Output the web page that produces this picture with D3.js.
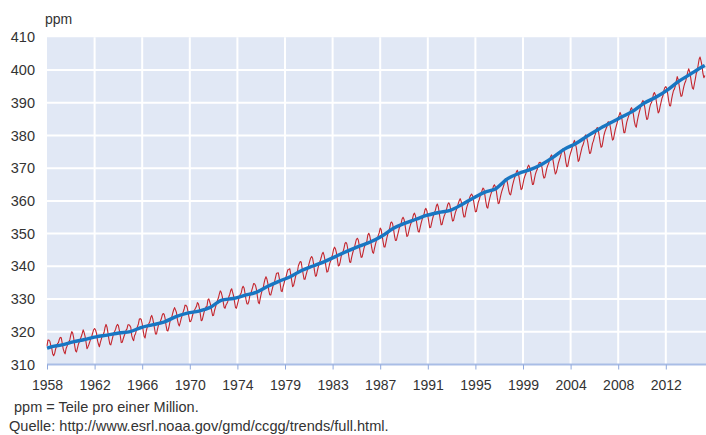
<!DOCTYPE html>
<html>
<head>
<meta charset="utf-8">
<script src="https://cdn.jsdelivr.net/npm/d3@7"></script>
<style>
  html, body { margin: 0; padding: 0; background: #fff; }
  svg { display: block; font-family: "Liberation Sans", Arial, sans-serif; }
</style>
</head>
<body>
<svg id="chart" width="706" height="435"></svg>
<script>
// ---- DATA ----
// Monthly mean CO2 at Mauna Loa (ppm), starting March 1958, ending October 2015
const startYear = 1958;
const startMonth = 3; // March
const co2Monthly = [
  315.71, 317.45, 317.50, 317.10, 315.86, 314.93, 313.20, 312.66, 313.33, 314.67,
  315.62, 316.38, 316.71, 317.72, 318.29, 318.15, 316.54, 314.80, 313.84, 313.26, 314.80, 315.58,
  316.43, 316.97, 317.58, 319.02, 320.03, 319.59, 318.18, 315.91, 314.16, 313.83, 315.00, 316.19,
  316.93, 317.70, 318.54, 319.48, 320.58, 319.77, 318.57, 316.79, 314.80, 315.38, 316.10, 317.01,
  317.94, 318.56, 319.68, 320.63, 321.01, 320.55, 319.58, 317.40, 316.26, 315.42, 316.69, 317.69,
  318.74, 319.08, 319.86, 321.39, 322.25, 321.47, 319.74, 317.77, 316.21, 315.99, 317.12, 318.31,
  319.57, 320.07, 320.73, 321.77, 322.25, 321.89, 320.44, 318.70, 316.70, 316.79, 317.79, 318.71,
  319.44, 320.44, 320.89, 322.13, 322.16, 321.87, 321.39, 318.81, 317.81, 317.30, 318.87, 319.42,
  320.62, 321.59, 322.39, 323.87, 324.01, 323.75, 322.39, 320.37, 318.64, 318.10, 319.79, 321.08,
  322.07, 322.50, 323.04, 324.42, 325.00, 324.09, 322.55, 320.92, 319.31, 319.31, 320.72, 321.96,
  322.57, 323.15, 323.89, 325.02, 325.57, 325.36, 324.14, 322.03, 320.41, 320.25, 321.31, 322.84,
  324.00, 324.42, 325.64, 326.66, 327.38, 326.70, 325.89, 323.67, 322.38, 321.78, 322.85, 324.11,
  325.03, 325.99, 326.87, 328.13, 328.07, 327.66, 326.35, 324.69, 323.10, 323.16, 323.98, 325.13,
  326.17, 326.68, 327.18, 327.78, 328.92, 328.57, 327.34, 325.46, 323.36, 323.57, 324.80, 326.01,
  326.77, 327.63, 327.75, 329.72, 330.07, 329.09, 328.05, 326.32, 324.93, 325.06, 326.50, 327.55,
  328.54, 329.56, 330.30, 331.50, 332.48, 332.07, 330.87, 329.31, 327.51, 327.18, 328.16, 328.64,
  329.35, 330.71, 331.48, 332.65, 333.16, 332.06, 330.99, 329.17, 327.41, 327.21, 328.34, 329.50,
  330.68, 331.41, 331.85, 333.29, 333.91, 333.40, 331.78, 329.88, 328.57, 328.46, 329.26, 330.97,
  331.60, 332.60, 333.57, 334.72, 334.68, 334.17, 332.96, 330.80, 328.98, 328.57, 330.20, 331.58,
  332.67, 333.17, 334.86, 336.07, 336.82, 336.12, 334.81, 332.56, 331.30, 331.22, 332.37, 333.49,
  334.71, 335.23, 336.54, 337.79, 337.95, 338.00, 336.37, 334.47, 332.46, 332.29, 333.76, 334.80,
  336.00, 336.63, 337.93, 338.95, 339.05, 339.27, 337.64, 335.68, 333.77, 334.09, 335.29, 336.76,
  337.77, 338.26, 340.10, 340.88, 341.47, 341.31, 339.41, 337.74, 336.10, 336.05, 337.21, 338.29,
  339.36, 340.51, 341.57, 342.56, 343.01, 342.47, 340.71, 338.52, 336.96, 337.13, 338.58, 339.89,
  340.93, 341.69, 342.69, 343.79, 344.30, 343.43, 341.88, 339.89, 338.24, 338.38, 339.60, 340.90,
  341.70, 342.70, 343.65, 345.17, 345.85, 345.35, 344.16, 342.11, 340.09, 340.33, 341.39, 343.02,
  343.85, 344.51, 345.57, 347.00, 347.34, 346.82, 345.22, 343.10, 341.30, 341.21, 342.71, 343.99,
  344.93, 345.80, 347.11, 348.26, 348.58, 348.03, 346.42, 344.21, 342.74, 342.87, 344.19, 345.54,
  346.42, 346.98, 347.69, 349.56, 350.11, 349.36, 347.81, 345.84, 344.32, 343.99, 345.48, 346.72,
  347.85, 348.48, 349.46, 350.29, 351.71, 351.23, 349.46, 347.55, 345.93, 345.90, 347.25, 348.66,
  349.84, 350.88, 351.68, 353.25, 353.55, 353.01, 351.37, 349.33, 347.92, 347.96, 349.24, 350.38,
  351.68, 352.23, 353.10, 354.49, 355.00, 354.42, 352.80, 350.85, 349.12, 349.37, 350.59, 351.88,
  352.91, 353.51, 354.63, 355.80, 356.25, 355.48, 353.92, 351.98, 350.60, 350.50, 351.91, 353.17,
  354.29, 355.09, 355.88, 357.24, 357.71, 356.99, 355.50, 353.64, 351.83, 351.94, 353.19, 354.50,
  355.61, 356.47, 357.17, 358.48, 359.03, 358.22, 356.42, 354.32, 352.68, 352.81, 354.11, 355.22,
  355.95, 356.75, 357.81, 358.97, 359.42, 358.88, 357.48, 355.34, 353.83, 354.00, 355.24, 356.50,
  357.27, 358.19, 359.16, 360.07, 360.68, 359.91, 358.43, 356.30, 355.07, 355.13, 356.79, 358.09,
  359.00, 359.82, 361.03, 361.70, 362.09, 361.59, 360.14, 358.36, 356.65, 356.73, 358.16, 359.59,
  360.34, 361.42, 362.14, 363.19, 363.91, 363.62, 361.67, 359.66, 358.07, 357.81, 359.40, 360.65,
  361.84, 362.66, 363.49, 364.52, 364.93, 364.25, 362.98, 360.90, 359.17, 359.32, 360.83, 362.15,
  363.18, 364.06, 364.93, 366.59, 366.81, 366.34, 364.99, 363.17, 362.05, 361.84, 363.23, 364.73,
  365.87, 366.93, 367.77, 368.81, 369.36, 368.63, 367.04, 365.13, 363.40, 363.73, 365.18, 366.66,
  367.59, 368.27, 369.32, 370.43, 370.92, 370.24, 368.71, 366.66, 364.99, 365.11, 366.74, 368.14,
  369.03, 369.66, 370.80, 371.72, 371.78, 371.47, 370.11, 368.06, 366.93, 367.22, 368.50, 369.95,
  370.84, 371.51, 372.63, 373.52, 374.04, 373.35, 371.64, 369.60, 368.20, 368.69, 369.90, 371.38,
  372.34, 373.25, 374.27, 375.48, 375.89, 375.40, 374.13, 371.86, 370.43, 370.63, 372.15, 373.61,
  374.64, 375.54, 376.61, 377.72, 378.49, 377.45, 376.25, 374.17, 372.06, 372.44, 373.88, 375.16,
  376.37, 377.05, 378.01, 379.77, 380.16, 379.28, 377.93, 376.03, 374.47, 374.64, 376.06, 377.56,
  378.34, 379.58, 380.39, 381.96, 382.40, 381.77, 379.96, 377.87, 376.37, 376.66, 378.26, 379.98,
  381.11, 381.86, 382.55, 384.02, 384.17, 383.69, 382.15, 380.27, 378.58, 378.85, 380.39, 381.82,
  382.89, 383.96, 385.51, 386.20, 387.03, 386.23, 384.82, 382.80, 380.84, 380.83, 382.43, 384.04,
  385.05, 385.97, 386.74, 387.96, 388.49, 387.66, 386.34, 384.22, 382.97, 382.49, 384.28, 385.72,
  386.94, 388.06, 389.17, 390.17, 390.70, 389.93, 388.46, 386.35, 384.87, 385.09, 386.73, 388.43,
  389.55, 390.05, 391.07, 392.57, 393.12, 392.43, 390.51, 388.56, 386.89, 387.26, 388.83, 390.08,
  391.37, 392.11, 393.75, 394.62, 394.91, 394.36, 392.68, 390.68, 389.07, 389.00, 390.91, 392.39,
  393.62, 394.15, 395.09, 396.62, 397.98, 397.12, 395.28, 393.34, 391.94, 392.12, 393.60, 394.96,
  396.04, 396.72, 397.95, 399.33, 400.36, 399.56, 397.87, 395.99, 394.44, 394.17, 395.72, 397.20,
  398.94, 399.73, 401.52, 403.26, 403.94, 402.80, 401.31, 398.93, 397.63, 398.29
];

// Trend (seasonally corrected) — start value, annual means (placed mid-year), end value
const trendYears = [1958.21, 1958.5, 1959.5, 1960.5, 1961.5, 1962.5, 1963.5, 1964.5, 1965.5, 1966.5,
  1967.5, 1968.5, 1969.5, 1970.5, 1971.5, 1972.5, 1973.5, 1974.5, 1975.5, 1976.5,
  1977.5, 1978.5, 1979.5, 1980.5, 1981.5, 1982.5, 1983.5, 1984.5, 1985.5, 1986.5,
  1987.5, 1988.5, 1989.5, 1990.5, 1991.5, 1992.5, 1993.5, 1994.5, 1995.5, 1996.5,
  1997.5, 1998.5, 1999.5, 2000.5, 2001.5, 2002.5, 2003.5, 2004.5, 2005.5, 2006.5,
  2007.5, 2008.5, 2009.5, 2010.5, 2011.5, 2012.5, 2013.5, 2014.5, 2015.5, 2015.79];
const trendValues = [315.0, 315.33, 315.97, 316.91, 317.64, 318.45, 318.99, 319.62, 320.04, 321.38,
  322.16, 323.04, 324.62, 325.68, 326.32, 327.45, 329.68, 330.18, 331.12, 332.04,
  333.83, 335.40, 336.84, 338.75, 340.11, 341.45, 343.05, 344.65, 346.12, 347.42,
  349.19, 351.57, 353.12, 354.39, 355.61, 356.45, 357.10, 358.83, 360.82, 362.61,
  363.73, 366.70, 368.38, 369.55, 371.14, 373.28, 375.80, 377.52, 379.80, 381.90,
  383.79, 385.60, 387.43, 389.90, 391.65, 393.85, 396.52, 398.65, 400.83, 401.4];

// X tick labels: one every 50 months, starting at the first month
const tickEvery = 50;
const xTickLabels = ["1958", "1962", "1966", "1970", "1974", "1979", "1983", "1987",
  "1991", "1995", "1999", "2004", "2008", "2012"];
const yTicks = [310, 320, 330, 340, 350, 360, 370, 380, 390, 400, 410];

const unitLabel = "ppm";
const note1 = "ppm = Teile pro einer Million.";
const note2 = "Quelle: http://www.esrl.noaa.gov/gmd/ccgg/trends/full.html.";

// ---- DRAW ----
const svg = d3.select("#chart");
const plot = { left: 47, right: 706, top: 37.25, bottom: 364.5 };
const FONT = "Liberation Sans, Arial, sans-serif";

const dateOf = i => startYear + (startMonth - 1 + i + 0.5) / 12;
const monthly = co2Monthly.map((v, i) => ({ t: dateOf(i), v }));
const trend = trendYears.map((t, i) => ({ t, v: trendValues[i] }));

const n = co2Monthly.length;
const x = d3.scaleLinear()
  .domain([dateOf(0), dateOf(n - 1)])
  .range([plot.left, plot.left + (n - 1) * 0.952]);
const y = d3.scaleLinear().domain([310, 410]).range([plot.bottom, plot.top]);

// background
svg.append("rect")
  .attr("x", plot.left).attr("y", plot.top)
  .attr("width", plot.right - plot.left).attr("height", plot.bottom - plot.top)
  .attr("fill", "#e1e8f5");

const tickDates = xTickLabels.map((_, k) => dateOf(k * tickEvery));

// grid
const grid = svg.append("g").attr("stroke", "#ffffff").attr("stroke-width", 2);
grid.selectAll("line.h").data(yTicks.filter(t => t > 310 && t < 410)).join("line")
  .attr("class", "h")
  .attr("x1", plot.left).attr("x2", plot.right)
  .attr("y1", d => y(d)).attr("y2", d => y(d));
grid.selectAll("line.v").data(tickDates.slice(1)).join("line")
  .attr("class", "v")
  .attr("x1", d => x(d)).attr("x2", d => x(d))
  .attr("y1", plot.top).attr("y2", plot.bottom);

// lines
const line = d3.line().x(d => x(d.t)).y(d => y(d.v));
svg.append("path").datum(monthly)
  .attr("d", line).attr("fill", "none")
  .attr("stroke", "#c4262e").attr("stroke-width", 1.1).attr("stroke-linejoin", "round");
svg.append("path").datum(trend)
  .attr("d", line.curve(d3.curveMonotoneX)).attr("fill", "none")
  .attr("stroke", "#1876c2").attr("stroke-width", 3.4).attr("stroke-linejoin", "round");

// x axis
const xAxis = d3.axisBottom(x)
  .tickValues(tickDates)
  .tickFormat((d, i) => xTickLabels[i])
  .tickSize(5).tickSizeOuter(0).tickPadding(11);
const gx = svg.append("g").attr("transform", `translate(0,${plot.bottom})`).call(xAxis);
gx.select(".domain").attr("stroke", "#a9bde6").attr("stroke-width", 2)
  .attr("d", `M${plot.left},0H${plot.right}`);
gx.selectAll(".tick line").attr("stroke", "#8fa8dc").attr("stroke-width", 1);
gx.selectAll(".tick text").attr("fill", "#333").attr("font-size", 14).attr("font-family", FONT);

// y axis
const yAxis = d3.axisLeft(y).tickValues(yTicks).tickSize(0).tickPadding(12);
const gy = svg.append("g").attr("transform", `translate(${plot.left},0)`).call(yAxis);
gy.select(".domain").remove();
gy.selectAll(".tick text").attr("fill", "#333").attr("font-size", 14.5).attr("font-family", FONT);

// labels
svg.append("text").attr("x", 45).attr("y", 24).attr("font-size", 14).attr("fill", "#333").text(unitLabel);
svg.append("text").attr("x", 14).attr("y", 412).attr("font-size", 14.5).attr("fill", "#333").text(note1);
svg.append("text").attr("x", 9).attr("y", 431).attr("font-size", 14.6).attr("fill", "#333").text(note2);
</script>
</body>
</html>
